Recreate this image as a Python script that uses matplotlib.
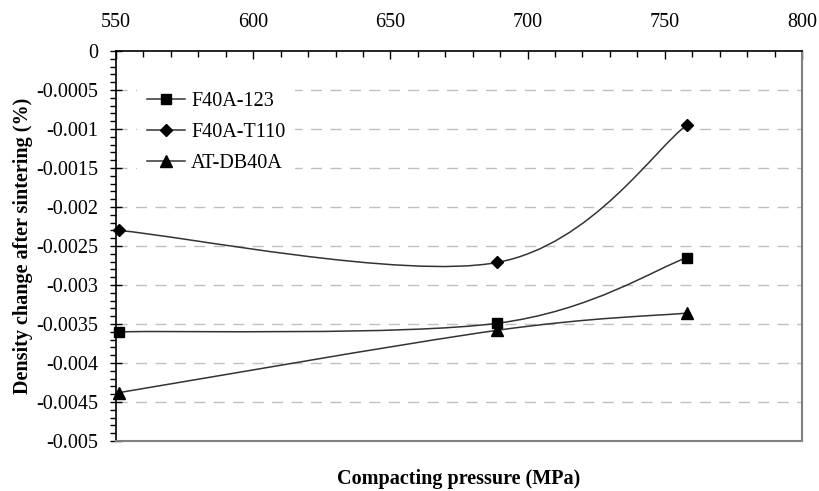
import matplotlib
matplotlib.use("Agg")
import matplotlib.pyplot as plt
from matplotlib.path import Path
from matplotlib.patches import PathPatch
from matplotlib.lines import Line2D
from matplotlib.ticker import MultipleLocator, FixedLocator, FixedFormatter

plt.rcParams['font.family'] = ['Liberation Serif', 'DejaVu Serif']

# ---- data ----
pressure = [551, 689, 758]
f40a_123 = [-0.0036, -0.00349, -0.00265]
f40a_t110 = [-0.0023, -0.00271, -0.00095]
at_db40a = [-0.00438, -0.00358, -0.00336]
series_names = ["F40A-123", "F40A-T110", "AT-DB40A"]
series_markers = ["s", "D", "^"]
x_ticks = [550, 600, 650, 700, 750, 800]
y_ticks = [0, -0.0005, -0.001, -0.0015, -0.002, -0.0025, -0.003, -0.0035, -0.004, -0.0045, -0.005]
y_tick_labels = ["0", "-0.0005", "-0.001", "-0.0015", "-0.002", "-0.0025", "-0.003",
                 "-0.0035", "-0.004", "-0.0045", "-0.005"]


def smooth_path(xs, ys):
    """Excel-like smoothed line as a cubic Bezier path through the data points."""
    n = len(xs)
    pts = list(zip(xs, ys))
    verts = [pts[0]]
    codes = [Path.MOVETO]
    for i in range(n - 1):
        p0 = pts[i - 1] if i > 0 else pts[i]
        p1 = pts[i]
        p2 = pts[i + 1]
        p3 = pts[i + 2] if i + 2 < n else pts[i + 1]
        c1 = (p1[0] + (p2[0] - p0[0]) / 6.0, p1[1] + (p2[1] - p0[1]) / 6.0)
        c2 = (p2[0] - (p3[0] - p1[0]) / 6.0, p2[1] - (p3[1] - p1[1]) / 6.0)
        verts += [c1, c2, p2]
        codes += [Path.CURVE4, Path.CURVE4, Path.CURVE4]
    return Path(verts, codes)


fig = plt.figure(figsize=(8.2, 4.91), dpi=100)
ax = fig.add_axes([0.1415, 0.1018, 0.8365, 0.7942])

FS = 14.5
line_color = "#333333"
handles = []
for name, marker, vals in zip(series_names, series_markers, [f40a_123, f40a_t110, at_db40a]):
    patch = PathPatch(smooth_path(pressure, vals), facecolor="none", edgecolor=line_color,
                      lw=1.1, zorder=3)
    ax.add_patch(patch)
    ms = 7 if marker == "s" else (6.5 if marker == "D" else 8)
    ax.plot(pressure, vals, linestyle="none", marker=marker, color="black", ms=ms,
            zorder=4, clip_on=False)
    handles.append(Line2D([0], [0], color=line_color, lw=1.1, marker=marker,
                          markerfacecolor="black", markeredgecolor="black", ms=ms))

ax.set_xlim(550, 800)
ax.set_ylim(-0.005, 0)

# gridlines
for yv in y_ticks[1:-1]:
    ax.axhline(yv, color="#c0c0c0", lw=1, ls=(0, (8, 6)), zorder=1)

# x axis on top
ax.xaxis.set_ticks_position("top")
ax.xaxis.set_label_position("bottom")
ax.xaxis.set_major_locator(FixedLocator(x_ticks))
ax.xaxis.set_minor_locator(MultipleLocator(10))
ax.tick_params(axis="x", which="major", direction="in", length=6, width=1,
               labelsize=FS, pad=14, colors="black")
ax.tick_params(axis="x", which="minor", direction="in", length=4, width=1)

ax.yaxis.set_major_locator(FixedLocator(y_ticks))
ax.yaxis.set_major_formatter(FixedFormatter(y_tick_labels))
ax.yaxis.set_minor_locator(MultipleLocator(0.0001))
ax.tick_params(axis="y", which="major", direction="inout", length=8, width=1,
               labelsize=FS, pad=9)
ax.tick_params(axis="y", which="minor", direction="out", length=4, width=1)

for side in ["left", "top"]:
    ax.spines[side].set_color("black")
    ax.spines[side].set_linewidth(1.2)
for side in ["right", "bottom"]:
    ax.spines[side].set_color("#808080")
    ax.spines[side].set_linewidth(1.5)

ax.set_xlabel("Compacting pressure (MPa)", fontsize=FS, fontweight="bold", labelpad=20)
ax.set_ylabel("Density change after sintering (%)", fontsize=FS, fontweight="bold",
              labelpad=2.5)

leg = ax.legend(handles, series_names, loc="upper left", bbox_to_anchor=(0.0156, 0.947),
                frameon=True, fontsize=FS, handlelength=1.9, handletextpad=0.3,
                labelspacing=0.6, borderpad=0.5, fancybox=False)
leg.get_frame().set_edgecolor("none")
leg.get_frame().set_facecolor("white")
leg.get_frame().set_alpha(1)
leg.set_zorder(5)

fig.savefig("out.png", dpi=100)
